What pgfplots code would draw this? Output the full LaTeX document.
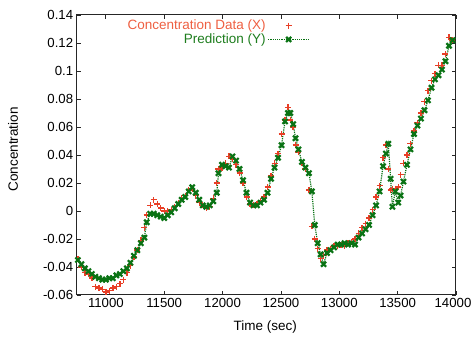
\documentclass[border=0pt]{standalone}
\usepackage{fontspec}
\setmainfont{Liberation Sans}
\usepackage{pgfplots}
\pgfplotsset{compat=1.18}
\definecolor{dataRed}{RGB}{232,62,38}
\definecolor{dataRedTxt}{RGB}{238,95,65}
\definecolor{predGreen}{RGB}{10,115,20}
\definecolor{predGreenTxt}{RGB}{30,125,30}
\begin{document}
\begin{tikzpicture}[font=\fontsize{13.5}{15}\selectfont]
\begin{axis}[
  scale only axis,
  width=379.3pt, height=280pt,
  xmin=10750, xmax=14000,
  ymin=-0.06, ymax=0.14,
  xtick={11000,11500,12000,12500,13000,13500},
  extra x ticks={14000},
  extra x tick style={xticklabel style={xshift=-3pt}},
  ytick={-0.06,-0.04,-0.02,0,0.02,0.04,0.06,0.08,0.1,0.12,0.14},
  scaled x ticks=false,
  scaled y ticks=false,
  tick align=inside,
  major tick length=4pt,
  axis line style={line width=1pt, black!85},
  tick style={line width=0.8pt, black!85},
  tick label style={font=\fontsize{13.2}{15}\selectfont},
  /pgf/number format/assume math mode=true,
  /pgf/number format/set thousands separator={},
  xticklabel style={/pgf/number format/fixed, /pgf/number format/precision=0},
  yticklabel style={/pgf/number format/fixed, /pgf/number format/precision=2},
  xlabel={Time (sec)},
  ylabel={Concentration},
  xlabel style={at={(axis description cs:0.497,-0.114)}, anchor=center},
  ylabel style={at={(axis description cs:-0.168,0.52)}, anchor=center},
  legend cell align=right,
  legend plot pos=right,
  legend style={draw=none, fill=none, at={(axis description cs:0.615,0.99)}, anchor=north east, row sep=-1.5pt, inner sep=0pt, font=\fontsize{13.5}{14}\selectfont},
]
\coordinate (bl) at (rel axis cs:0,0);
\coordinate (tr) at (rel axis cs:1,1);
\addplot[only marks, mark=+, mark size=3pt, line width=1.4pt, color=dataRed,
  legend image code/.code={\draw[mark repeat=2,mark phase=2] plot coordinates {(0cm,0cm)(0.72cm,0cm)(1.44cm,0cm)};}]
 coordinates {
(10760,-0.034)(10790,-0.040)(10820,-0.044)(10850,-0.045)(10880,-0.048)(10910,-0.054)(10940,-0.055)(10970,-0.056)
(11000,-0.058)(11030,-0.057)(11060,-0.055)(11090,-0.054)(11120,-0.052)(11150,-0.049)(11180,-0.044)(11210,-0.039)
(11240,-0.033)(11270,-0.028)(11300,-0.021)(11330,-0.012)(11350,-0.003)(11380,0.004)(11410,0.008)(11440,0.005)
(11470,0.002)(11500,0.000)(11530,0.000)(11560,0.001)(11590,0.003)(11620,0.006)(11650,0.009)(11680,0.011)
(11710,0.015)(11740,0.016)(11770,0.011)(11800,0.006)(11830,0.004)(11860,0.002)(11890,0.003)(11920,0.009)
(11950,0.020)(11965,0.030)(11995,0.031)(12025,0.034)(12055,0.039)(12085,0.037)(12115,0.033)(12145,0.027)
(12175,0.020)(12205,0.010)(12235,0.005)(12265,0.004)(12295,0.005)(12325,0.007)(12355,0.010)(12385,0.017)
(12415,0.025)(12445,0.034)(12475,0.041)(12505,0.055)(12535,0.065)(12560,0.074)(12580,0.065)(12605,0.060)
(12625,0.047)(12650,0.042)(12680,0.034)(12710,0.030)(12740,0.015)(12765,-0.011)(12790,-0.020)(12815,-0.027)
(12840,-0.034)(12865,-0.032)(12895,-0.028)(12925,-0.027)(12955,-0.025)(12985,-0.025)(13015,-0.024)(13045,-0.025)
(13075,-0.023)(13105,-0.022)(13135,-0.020)(13165,-0.016)(13195,-0.012)(13225,-0.009)(13255,-0.005)(13285,0.001)
(13315,0.010)(13345,0.018)(13375,0.038)(13400,0.047)(13420,0.030)(13440,0.015)(13455,0.016)(13480,0.016)
(13505,0.017)(13525,0.026)(13550,0.034)(13580,0.040)(13610,0.048)(13640,0.057)(13670,0.063)(13700,0.070)
(13730,0.078)(13760,0.086)(13790,0.093)(13820,0.098)(13850,0.104)(13880,0.104)(13910,0.112)(13940,0.124)
(13970,0.122)
};
\addlegendentry{\textcolor{dataRedTxt}{Concentration Data (X)}}
\addplot[color=predGreen, densely dotted, line width=1.2pt, mark=x, mark size=3.6pt,
  mark options={solid, line width=2.2pt},
  legend image code/.code={\draw[mark repeat=2,mark phase=2] plot coordinates {(0cm,0cm)(0.72cm,0cm)(1.44cm,0cm)};}]
 coordinates {
(10760,-0.035)(10790,-0.038)(10820,-0.041)(10850,-0.043)(10880,-0.045)(10910,-0.047)(10940,-0.048)(10970,-0.049)
(11000,-0.049)(11030,-0.048)(11060,-0.048)(11090,-0.046)(11120,-0.045)(11150,-0.043)(11180,-0.041)(11210,-0.037)
(11240,-0.032)(11270,-0.028)(11300,-0.023)(11330,-0.019)(11350,-0.008)(11380,-0.002)(11410,-0.002)(11440,-0.003)
(11470,-0.004)(11500,-0.005)(11530,-0.003)(11560,-0.001)(11590,0.002)(11620,0.005)(11650,0.008)(11680,0.010)
(11710,0.014)(11740,0.017)(11770,0.013)(11800,0.008)(11830,0.004)(11860,0.003)(11890,0.004)(11920,0.007)
(11950,0.013)(11965,0.027)(11995,0.033)(12025,0.032)(12055,0.031)(12085,0.039)(12115,0.036)(12145,0.030)
(12175,0.022)(12205,0.013)(12235,0.006)(12265,0.004)(12295,0.004)(12325,0.006)(12355,0.008)(12385,0.013)
(12415,0.023)(12445,0.031)(12475,0.038)(12505,0.047)(12535,0.064)(12560,0.070)(12580,0.070)(12605,0.062)
(12625,0.052)(12650,0.044)(12680,0.035)(12710,0.031)(12740,0.027)(12765,0.014)(12790,-0.010)(12815,-0.023)
(12840,-0.031)(12865,-0.038)(12895,-0.030)(12925,-0.028)(12955,-0.026)(12985,-0.024)(13015,-0.024)(13045,-0.023)
(13075,-0.024)(13105,-0.023)(13135,-0.024)(13165,-0.019)(13195,-0.016)(13225,-0.013)(13255,-0.010)(13285,-0.003)
(13315,0.004)(13345,0.014)(13375,0.032)(13400,0.041)(13420,0.048)(13440,0.023)(13455,0.003)(13480,0.014)
(13505,0.006)(13525,0.011)(13550,0.021)(13580,0.033)(13610,0.044)(13640,0.055)(13670,0.061)(13700,0.066)
(13730,0.072)(13760,0.079)(13790,0.088)(13820,0.094)(13850,0.097)(13880,0.101)(13910,0.107)(13940,0.118)
(13970,0.122)
};
\addlegendentry{\textcolor{predGreenTxt}{Prediction (Y)}}
\end{axis}
\pgfresetboundingbox
\path ([shift={(-76.7pt,-42pt)}]bl) rectangle ([shift={(17pt,15pt)}]tr);
\end{tikzpicture}
\end{document}
